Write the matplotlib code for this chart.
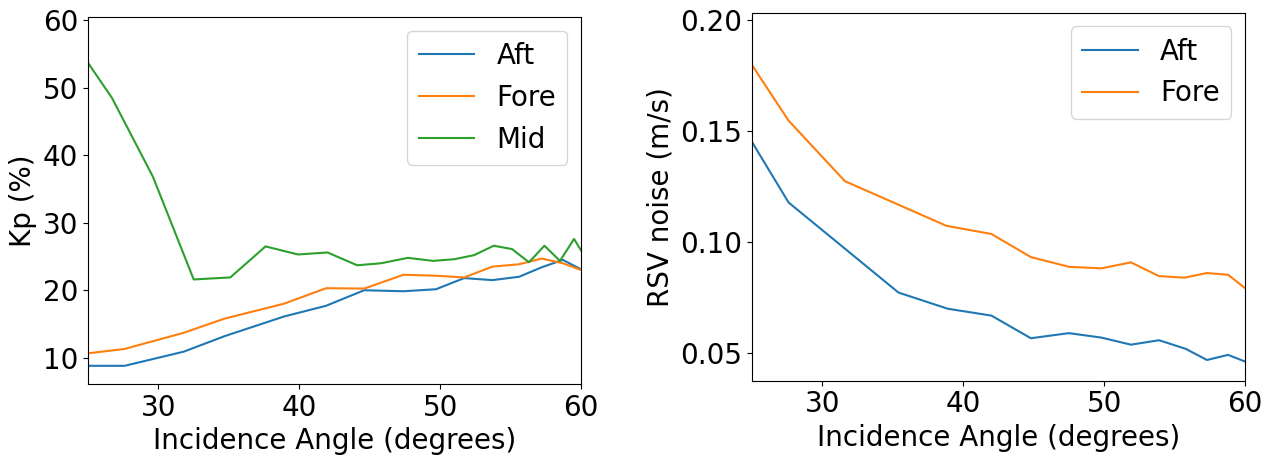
import numpy as np
import matplotlib
matplotlib.use('Agg')
import matplotlib.pyplot as plt

# Kp (%) vs incidence angle
kp_aft_x = [25.0, 27.6, 31.8, 34.7, 38.9, 41.9, 44.6, 47.4, 49.7, 51.7, 53.7, 55.6, 57.2, 58.7, 60.0]
kp_aft_y = [8.8, 8.8, 10.9, 13.2, 16.1, 17.7, 20.0, 19.85, 20.15, 21.8, 21.5, 22.0, 23.4, 24.5, 23.1]

kp_fore_x = [25.0, 27.6, 31.8, 34.7, 38.9, 41.9, 44.6, 47.4, 49.7, 51.7, 53.7, 55.6, 57.2, 58.7, 60.0]
kp_fore_y = [10.65, 11.3, 13.7, 15.8, 18.0, 20.3, 20.25, 22.3, 22.15, 21.9, 23.5, 23.85, 24.7, 24.0, 23.0]

kp_mid_x = [25.0, 26.7, 29.6, 32.5, 35.1, 37.6, 39.9, 42.0, 44.1, 45.8, 47.7, 49.5,
            51.0, 52.4, 53.8, 55.1, 56.3, 57.4, 58.5, 59.5, 60.0]
kp_mid_y = [53.7, 48.5, 36.85, 21.6, 21.9, 26.5, 25.3, 25.6, 23.7, 24.0, 24.8, 24.35,
            24.6, 25.2, 26.6, 26.1, 24.15, 26.6, 24.35, 27.6, 25.9]

# RSV noise (m/s) vs incidence angle
rsv_aft_x = [25.0, 27.6, 35.4, 38.9, 42.0, 44.8, 47.5, 49.8, 51.9, 53.9, 55.8, 57.3, 58.8, 60.0]
rsv_aft_y = [0.145, 0.1177, 0.0771, 0.0698, 0.0667, 0.0565, 0.0588, 0.0568, 0.0536, 0.0556,
             0.0517, 0.0467, 0.0490, 0.0460]

rsv_fore_x = [25.0, 27.6, 31.6, 38.8, 42.0, 44.8, 47.5, 49.8, 51.9, 53.9, 55.7, 57.3, 58.8, 60.0]
rsv_fore_y = [0.1797, 0.1546, 0.1273, 0.1072, 0.1035, 0.0931, 0.0887, 0.0880, 0.0907, 0.0845,
              0.0838, 0.0859, 0.0851, 0.0791]

fs = 20

fig = plt.figure(figsize=(12.76, 4.55), dpi=100)
ax1 = fig.add_axes([0.069, 0.156, 0.3864, 0.8066])
ax2 = fig.add_axes([0.5893, 0.1635, 0.3864, 0.8088])

ax1.plot(kp_aft_x, kp_aft_y, label='Aft')
ax1.plot(kp_fore_x, kp_fore_y, label='Fore')
ax1.plot(kp_mid_x, kp_mid_y, label='Mid')
ax1.set_xlim(25, 60)
ax1.set_ylim(6.1, 60.5)
ax1.set_xticks([30, 40, 50, 60])
ax1.set_yticks([10, 20, 30, 40, 50, 60])
ax1.set_xlabel('Incidence Angle (degrees)', fontsize=fs)
ax1.set_ylabel('Kp (%)', fontsize=fs)
ax1.tick_params(labelsize=fs)
ax1.legend(loc='upper right', fontsize=fs)

ax2.plot(rsv_aft_x, rsv_aft_y, label='Aft')
ax2.plot(rsv_fore_x, rsv_fore_y, label='Fore')
ax2.set_xlim(25, 60)
ax2.set_ylim(0.0374, 0.2033)
ax2.set_xticks([30, 40, 50, 60])
ax2.set_yticks([0.05, 0.10, 0.15, 0.20])
ax2.set_xlabel('Incidence Angle (degrees)', fontsize=fs)
ax2.set_ylabel('RSV noise (m/s)', fontsize=fs)
ax2.tick_params(labelsize=fs)
ax2.legend(loc='upper right', fontsize=fs)

fig.savefig('out.png', dpi=100)
